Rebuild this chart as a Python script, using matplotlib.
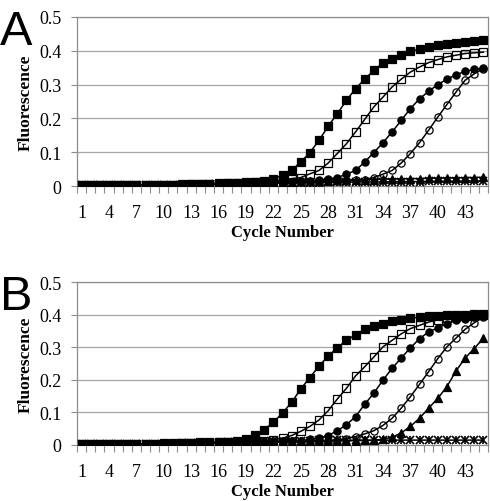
"""Two-panel real-time PCR amplification curves (panels A and B)."""

import matplotlib.pyplot as plt
import numpy as np

cycles = list(range(1, 46))
tick_cycles = list(range(1, 46, 3))
y_ticks = [0, 0.1, 0.2, 0.3, 0.4, 0.5]
y_tick_labels = ["0", "0.1", "0.2", "0.3", "0.4", "0.5"]

# ---- Panel A ----
a_filled_sq = [0.002, 0.002, 0.002, 0.002, 0.002, 0.002, 0.002, 0.002, 0.003, 0.004,
               0.004, 0.005, 0.005, 0.006, 0.007, 0.008, 0.009, 0.010, 0.011, 0.013,
               0.015, 0.020, 0.032, 0.047, 0.071, 0.099, 0.135, 0.177, 0.214, 0.253,
               0.288, 0.316, 0.342, 0.364, 0.377, 0.389, 0.398, 0.406, 0.411, 0.416,
               0.421, 0.424, 0.426, 0.428, 0.431]
a_open_sq = [0.002, 0.002, 0.002, 0.002, 0.002, 0.002, 0.002, 0.002, 0.003, 0.003,
             0.004, 0.004, 0.005, 0.005, 0.006, 0.007, 0.008, 0.009, 0.010, 0.011,
             0.012, 0.014, 0.017, 0.022, 0.025, 0.036, 0.046, 0.068, 0.096, 0.125,
             0.160, 0.197, 0.234, 0.263, 0.293, 0.316, 0.337, 0.352, 0.365, 0.374,
             0.382, 0.387, 0.392, 0.394, 0.396]
a_filled_circ = [0.002, 0.002, 0.002, 0.002, 0.002, 0.002, 0.002, 0.002, 0.003, 0.003,
                 0.004, 0.004, 0.005, 0.005, 0.006, 0.006, 0.007, 0.008, 0.009, 0.010,
                 0.010, 0.011, 0.012, 0.013, 0.014, 0.015, 0.017, 0.020, 0.025, 0.035,
                 0.046, 0.071, 0.099, 0.128, 0.160, 0.194, 0.229, 0.258, 0.280, 0.300,
                 0.316, 0.329, 0.339, 0.345, 0.349]
a_open_circ = [0.002, 0.002, 0.002, 0.002, 0.002, 0.002, 0.002, 0.002, 0.003, 0.003,
               0.004, 0.004, 0.004, 0.005, 0.005, 0.006, 0.006, 0.007, 0.008, 0.008,
               0.009, 0.010, 0.010, 0.011, 0.012, 0.012, 0.013, 0.014, 0.014, 0.015,
               0.017, 0.019, 0.025, 0.035, 0.046, 0.068, 0.096, 0.128, 0.165, 0.204,
               0.241, 0.278, 0.313, 0.332, 0.347]
a_filled_tri = [0.002, 0.002, 0.002, 0.002, 0.002, 0.002, 0.002, 0.002, 0.003, 0.004,
                0.004, 0.005, 0.005, 0.006, 0.007, 0.008, 0.008, 0.009, 0.010, 0.010,
                0.011, 0.012, 0.013, 0.013, 0.014, 0.015, 0.015, 0.016, 0.017, 0.018,
                0.018, 0.019, 0.019, 0.020, 0.021, 0.021, 0.022, 0.022, 0.023, 0.023,
                0.024, 0.024, 0.025, 0.025, 0.026]
a_star = [0.002, 0.002, 0.002, 0.002, 0.002, 0.002, 0.002, 0.002, 0.003, 0.003,
          0.003, 0.004, 0.004, 0.004, 0.005, 0.005, 0.006, 0.006, 0.007, 0.007,
          0.008, 0.008, 0.009, 0.009, 0.010, 0.010, 0.010, 0.011, 0.011, 0.011,
          0.012, 0.012, 0.012, 0.012, 0.013, 0.013, 0.013, 0.013, 0.014, 0.014,
          0.014, 0.014, 0.015, 0.015, 0.015]

# ---- Panel B ----
b_filled_sq = [0.002, 0.002, 0.002, 0.002, 0.002, 0.002, 0.002, 0.002, 0.004, 0.005,
               0.005, 0.005, 0.006, 0.008, 0.008, 0.009, 0.010, 0.013, 0.018, 0.031,
               0.047, 0.070, 0.098, 0.131, 0.172, 0.207, 0.242, 0.273, 0.298, 0.321,
               0.338, 0.355, 0.364, 0.372, 0.379, 0.384, 0.389, 0.392, 0.395, 0.397,
               0.398, 0.399, 0.400, 0.401, 0.402]
b_open_sq = [0.002, 0.002, 0.002, 0.002, 0.002, 0.002, 0.002, 0.002, 0.003, 0.004,
             0.004, 0.005, 0.005, 0.006, 0.007, 0.008, 0.008, 0.009, 0.010, 0.011,
             0.012, 0.016, 0.021, 0.029, 0.042, 0.057, 0.077, 0.105, 0.141, 0.174,
             0.212, 0.240, 0.270, 0.301, 0.321, 0.341, 0.357, 0.367, 0.377, 0.384,
             0.389, 0.392, 0.395, 0.397, 0.399]
b_filled_circ = [0.002, 0.002, 0.002, 0.002, 0.002, 0.002, 0.002, 0.002, 0.003, 0.004,
                 0.004, 0.005, 0.005, 0.006, 0.006, 0.007, 0.008, 0.008, 0.009, 0.010,
                 0.010, 0.011, 0.011, 0.012, 0.013, 0.017, 0.021, 0.029, 0.044, 0.062,
                 0.087, 0.125, 0.159, 0.199, 0.235, 0.267, 0.298, 0.326, 0.347, 0.359,
                 0.372, 0.382, 0.387, 0.392, 0.397]
b_open_circ = [0.002, 0.002, 0.002, 0.002, 0.002, 0.002, 0.002, 0.002, 0.003, 0.003,
               0.004, 0.004, 0.005, 0.005, 0.006, 0.006, 0.007, 0.007, 0.008, 0.009,
               0.009, 0.010, 0.010, 0.011, 0.011, 0.012, 0.012, 0.013, 0.016, 0.019,
               0.026, 0.034, 0.044, 0.060, 0.082, 0.113, 0.148, 0.186, 0.225, 0.265,
               0.301, 0.328, 0.355, 0.375, 0.392]
b_filled_tri = [0.002, 0.002, 0.002, 0.002, 0.002, 0.002, 0.002, 0.002, 0.003, 0.003,
                0.004, 0.004, 0.005, 0.005, 0.006, 0.006, 0.007, 0.007, 0.008, 0.008,
                0.009, 0.009, 0.010, 0.010, 0.011, 0.011, 0.012, 0.012, 0.013, 0.013,
                0.013, 0.014, 0.014, 0.018, 0.024, 0.037, 0.057, 0.082, 0.113, 0.143,
                0.179, 0.227, 0.267, 0.296, 0.328]
b_star = [0.002, 0.002, 0.002, 0.002, 0.002, 0.002, 0.002, 0.002, 0.003, 0.004,
          0.004, 0.005, 0.005, 0.006, 0.007, 0.007, 0.008, 0.009, 0.010, 0.011,
          0.011, 0.012, 0.012, 0.013, 0.013, 0.013, 0.014, 0.014, 0.014, 0.014,
          0.015, 0.015, 0.015, 0.015, 0.015, 0.015, 0.015, 0.015, 0.015, 0.015,
          0.015, 0.015, 0.015, 0.015, 0.015]

SERIF = "Liberation Serif"
GRID = "#a6a6a6"
FRAME = "#8c8c8c"


def draw_series(ax, values, marker, filled):
    face = "black" if filled else "none"
    ax.plot(cycles, values, color="black", linewidth=1.1,
            marker=marker, markersize=5.2 if marker != "^" else 6.0,
            markerfacecolor=face, markeredgecolor="black",
            markeredgewidth=0.9, zorder=3)


def draw_star(ax, values):
    # Excel "star" marker: an x with a vertical bar through it
    ax.plot(cycles, values, color="black", linewidth=1.1, marker="x",
            markersize=5.5, markeredgewidth=1.2, zorder=3)
    ax.plot(cycles, values, linestyle="none", marker="|",
            markersize=5.5, markeredgewidth=1.2, color="black", zorder=3)


def style_axes(ax):
    ax.set_xlim(0.5, 45.5)
    ax.set_ylim(0, 0.5)
    ax.set_yticks(y_ticks)
    ax.set_yticklabels(y_tick_labels, fontfamily=SERIF, fontsize=13)
    ax.set_xticks(tick_cycles)
    ax.set_xticklabels([str(c) for c in tick_cycles], fontfamily=SERIF, fontsize=13)
    # Excel-style category ticks sit between categories
    ax.set_xticks(np.arange(0.5, 46, 1.0), minor=True)
    ax.tick_params(axis="x", which="major", length=0, pad=13)
    ax.tick_params(axis="x", which="minor", length=5, color=FRAME, width=0.8,
                   direction="out")
    ax.tick_params(axis="y", length=4, color=FRAME, width=0.8, pad=7)
    ax.yaxis.grid(True, color=GRID, linewidth=0.9)
    ax.set_axisbelow(True)
    for s in ax.spines.values():
        s.set_color(FRAME)
        s.set_linewidth(0.9)
    ax.set_xlabel("Cycle Number", fontfamily=SERIF, fontweight="bold",
                  fontsize=12, labelpad=2)
    ax.set_ylabel("Fluorescence", fontfamily=SERIF, fontweight="bold",
                  fontsize=12.5, labelpad=4)


def main():
    fig = plt.figure(figsize=(4.90, 5.02), dpi=100)
    ax_a = fig.add_axes([77 / 490, 1 - 187 / 502, 411 / 490, 169 / 502])
    ax_b = fig.add_axes([77 / 490, 1 - 446 / 502, 411 / 490, 163 / 502])

    # --- Panel A ---
    draw_star(ax_a, a_star)
    draw_series(ax_a, a_filled_tri, "^", True)
    draw_series(ax_a, a_open_circ, "o", False)
    draw_series(ax_a, a_filled_circ, "o", True)
    draw_series(ax_a, a_open_sq, "s", False)
    draw_series(ax_a, a_filled_sq, "s", True)
    style_axes(ax_a)

    # --- Panel B ---
    draw_star(ax_b, b_star)
    draw_series(ax_b, b_filled_tri, "^", True)
    draw_series(ax_b, b_open_circ, "o", False)
    draw_series(ax_b, b_filled_circ, "o", True)
    draw_series(ax_b, b_open_sq, "s", False)
    draw_series(ax_b, b_filled_sq, "s", True)
    style_axes(ax_b)

    fig.text(0.0, 1 - 10 / 502, "A", fontfamily="Liberation Sans",
             fontsize=35, va="top", ha="left")
    fig.text(0.0, 1 - 275 / 502, "B", fontfamily="Liberation Sans",
             fontsize=35, va="top", ha="left")

    fig.savefig("out.png", dpi=100)


if __name__ == "__main__":
    main()
